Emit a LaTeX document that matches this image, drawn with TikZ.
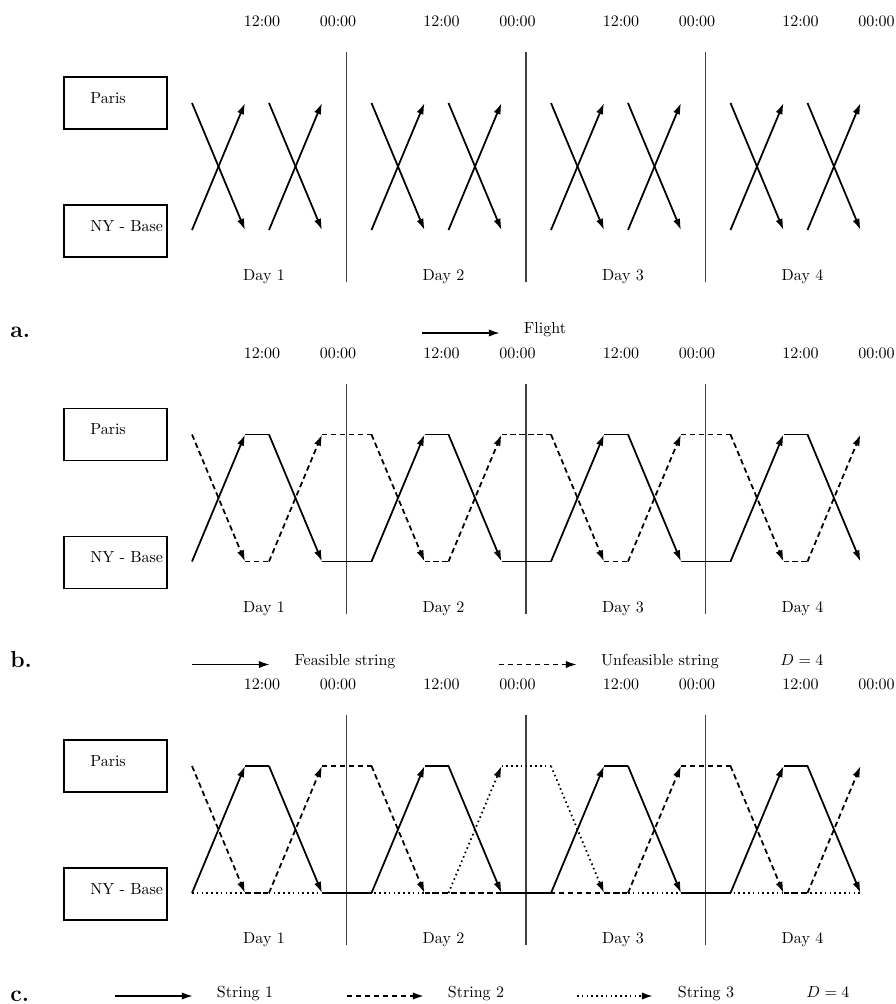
\documentclass[tikz,border=0pt]{standalone}
\usepackage{tikz}
\usetikzlibrary{arrows.meta}

\newcommand{\dayframe}[1]{%
  \node[cityBox] (paris#1) at (115.5,103) {};
  \node[cityBox] (ny#1) at (115.5,231) {};
  \node[cityText] (parisName#1) at (90,103) {Paris};
  \node[cityText] (nyName#1) at (90,231) {NY - Base};
  \foreach \k/\n in {0/1,1/2,2/3,3/4}{%
    \pgfmathsetmacro{\o}{167+179.5*\k}
    \node[clockText] (noon#1\n) at (\o+95,26.5) {12:00};
    \node[clockText] (midnight#1\n) at (\o+171,26.5) {00:00};
    \node[clockText] (dayName#1\n) at (\o+97,280.5) {Day \n};
    \coordinate (#1\n-At) at (\o+25,103);
    \coordinate (#1\n-Ab) at (\o+25,230);
    \coordinate (#1\n-Bt) at (\o+78,103);
    \coordinate (#1\n-Bb) at (\o+78,230);
    \coordinate (#1\n-Ct) at (\o+102,103);
    \coordinate (#1\n-Cb) at (\o+102,230);
    \coordinate (#1\n-Dt) at (\o+155,103);
    \coordinate (#1\n-Db) at (\o+155,230);
  }
  \foreach \k in {1,2,3}{%
    \draw[dayLine] (167+179.5*\k,52) -- (167+179.5*\k,282);
  }
}

\begin{document}
\begin{tikzpicture}[
    x=0.625pt, y=-0.625pt,
    cityBox/.style={draw, line width=1.2pt, minimum width=64.4pt, minimum height=32.5pt, inner sep=0pt},
    cityText/.style={anchor=base west, inner sep=0pt},
    clockText/.style={anchor=base, inner sep=0pt},
    legendText/.style={anchor=base, inner sep=0pt},
    panelTag/.style={anchor=base west, inner sep=0pt, font=\Large\bfseries},
    dayLine/.style={draw=black!75, line width=1.2pt},
    ground/.style={line width=1.1pt},
    flight/.style={ground, -{Latex[length=7pt,width=4.6pt]}},
    stringTwo/.style={dash pattern=on 3.4pt off 2.2pt},
    stringThree/.style={dash pattern=on 1pt off 2pt}
]
\useasboundingbox (0,0) rectangle (896,1004);

\begin{scope}
\dayframe{a}
\foreach \n in {1,...,4}{
  \draw[flight] (a\n-At) -- (a\n-Bb);
  \draw[flight] (a\n-Ab) -- (a\n-Bt);
  \draw[flight] (a\n-Ct) -- (a\n-Db);
  \draw[flight] (a\n-Cb) -- (a\n-Dt);
}
\node[panelTag] (tagA) at (10,337) {a.};
\coordinate (flightFrom) at (422,333);
\coordinate (flightTo) at (500,333);
\draw[flight] (flightFrom) -- (flightTo);
\node[legendText] (flightName) at (545,333) {Flight};
\end{scope}

\begin{scope}[shift={(0,331.5)}]
\dayframe{b}
\foreach \n in {1,...,4}{
  \draw[flight,stringTwo] (b\n-At) -- (b\n-Bb);
  \draw[ground,stringTwo] (b\n-Bb) -- (b\n-Cb);
  \draw[flight,stringTwo] (b\n-Cb) -- (b\n-Dt);
  \draw[flight] (b\n-Ab) -- (b\n-Bt);
  \draw[ground] (b\n-Bt) -- (b\n-Ct);
  \draw[flight] (b\n-Ct) -- (b\n-Db);
}
\foreach \n/\m in {1/2,2/3,3/4}{
  \draw[ground,stringTwo] (b\n-Dt) -- (b\m-At);
  \draw[ground] (b\n-Db) -- (b\m-Ab);
}
\node[panelTag] (tagB) at (10,336) {b.};
\coordinate (feasibleFrom) at (192,333);
\coordinate (feasibleTo) at (270,333);
\draw[flight] (feasibleFrom) -- (feasibleTo);
\node[legendText] (feasibleName) at (345,333.5) {Feasible string};
\coordinate (unfeasibleFrom) at (499,333);
\coordinate (unfeasibleTo) at (577,333);
\draw[flight,stringTwo] (unfeasibleFrom) -- (unfeasibleTo);
\node[legendText] (unfeasibleName) at (660,333.5) {Unfeasible string};
\node[legendText] (horizonB) at (802,333.5) {$D=4$};
\end{scope}

\begin{scope}[shift={(0,663)}]
\dayframe{c}
\draw[ground,stringThree] (c1-Ab) -- (c2-Cb);
\draw[flight,stringThree] (c2-Cb) -- (c2-Dt);
\draw[ground,stringThree] (c2-Dt) -- (c3-At);
\draw[flight,stringThree] (c3-At) -- (c3-Bb);
\draw[ground,stringThree] (c3-Bb) -- (c4-Db);
\draw[flight,stringTwo] (c1-At) -- (c1-Bb);
\draw[ground,stringTwo] (c1-Bb) -- (c1-Cb);
\draw[flight,stringTwo] (c1-Cb) -- (c1-Dt);
\draw[ground,stringTwo] (c1-Dt) -- (c2-At);
\draw[flight,stringTwo] (c2-At) -- (c2-Bb);
\draw[ground,stringTwo] (c2-Bb) -- (c3-Cb);
\draw[flight,stringTwo] (c3-Cb) -- (c3-Dt);
\draw[ground,stringTwo] (c3-Dt) -- (c4-At);
\draw[flight,stringTwo] (c4-At) -- (c4-Bb);
\draw[ground,stringTwo] (c4-Bb) -- (c4-Cb);
\draw[flight,stringTwo] (c4-Cb) -- (c4-Dt);
\foreach \n in {1,...,4}{
  \draw[flight] (c\n-Ab) -- (c\n-Bt);
  \draw[ground] (c\n-Bt) -- (c\n-Ct);
  \draw[flight] (c\n-Ct) -- (c\n-Db);
}
\foreach \n/\m in {1/2,2/3,3/4}{
  \draw[ground] (c\n-Db) -- (c\m-Ab);
}
\node[panelTag] (tagC) at (10,338) {c.};
\coordinate (oneFrom) at (115,333);
\coordinate (oneTo) at (193,333);
\draw[flight] (oneFrom) -- (oneTo);
\node[legendText] (oneName) at (245,334) {String 1};
\coordinate (twoFrom) at (347,333);
\coordinate (twoTo) at (424,333);
\draw[flight,stringTwo] (twoFrom) -- (twoTo);
\node[legendText] (twoName) at (476,334) {String 2};
\coordinate (threeFrom) at (577,333);
\coordinate (threeTo) at (653,333);
\draw[flight,stringThree] (threeFrom) -- (threeTo);
\node[legendText] (threeName) at (706,334) {String 3};
\node[legendText] (horizonC) at (828,334) {$D=4$};
\end{scope}
\end{tikzpicture}
\end{document}
